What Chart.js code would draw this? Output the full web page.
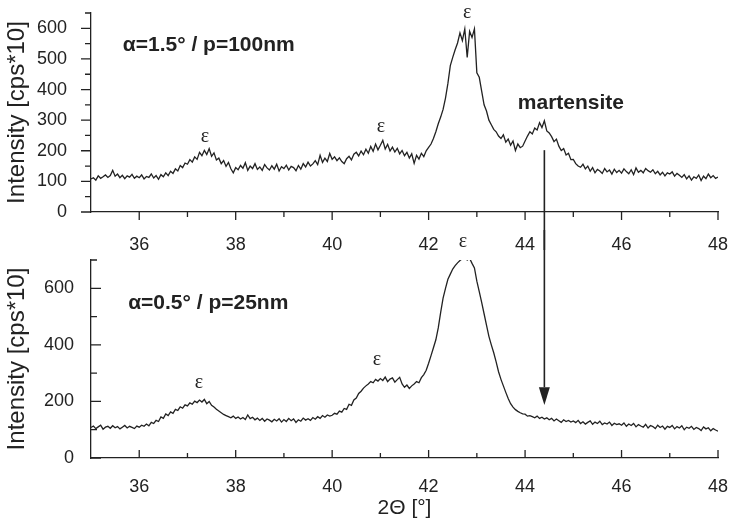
<!DOCTYPE html>
<html>
<head>
<meta charset="utf-8">
<title>XRD 2Theta scans</title>
<script src="https://cdn.jsdelivr.net/npm/chart.js@4.4.1/dist/chart.umd.min.js"></script>
<style>
  html, body { margin: 0; padding: 0; background: #fff; }
  #wrap { position: relative; width: 730px; height: 525px; overflow: hidden; }
  #topBox { position: absolute; left: 0; top: 0; width: 730px; height: 250px; }
  #bottomBox { position: absolute; left: 0; top: 230px; width: 730px; height: 295px; }
</style>
</head>
<body>
<div id="wrap">
  <div id="topBox"><canvas id="topChart"></canvas></div>
  <div id="bottomBox"><canvas id="bottomChart"></canvas></div>
</div>
<script>
// 2theta sampling: 35.00 .. 48.00 in 0.05 deg steps
const angleStart = 35;
const angleStep = 0.05;

// alpha = 1.5 deg / p = 100 nm  (cps*10)
const topCounts = [
  108,112,104,118,110,115,121,113,119,136,117,124,112,120,109,118,114,123,110,117,
  112,121,108,116,113,124,111,119,107,122,115,128,119,133,126,141,134,152,145,160,
  156,171,163,180,172,195,184,201,188,207,182,193,170,176,158,168,149,162,141,128,
  145,138,152,143,161,136,150,142,158,139,147,136,155,144,137,151,140,156,134,148,
  142,153,137,149,145,135,152,140,158,147,163,150,157,168,155,185,162,176,165,191,
  172,180,168,177,165,158,174,182,170,189,195,183,199,187,205,192,214,198,222,203,
  218,234,206,221,199,212,196,208,190,201,184,195,176,190,159,185,173,192,181,200,
  211,222,240,262,288,310,335,372,420,478,505,530,552,585,560,598,505,590,570,598,
  455,440,395,350,330,300,285,270,262,248,240,252,228,238,218,232,201,222,210,215,
  232,248,262,255,274,268,292,276,298,265,258,246,230,238,215,201,207,186,192,171,
  172,158,150,146,156,141,150,133,145,128,139,134,126,142,131,137,124,140,129,136,
  127,141,132,125,138,122,144,130,136,128,142,135,130,138,125,133,121,130,118,128,
  124,131,117,126,120,113,122,108,118,104,115,110,121,103,117,109,124,112,119,110,
  114
];

// alpha = 0.5 deg / p = 25 nm  (cps*10)
const bottomCounts = [
  108,113,104,110,116,102,109,112,105,114,107,111,103,109,115,106,112,108,104,113,
  109,116,112,120,114,126,122,133,129,145,140,156,150,163,158,172,168,181,176,188,
  184,195,190,201,196,205,198,207,192,200,186,180,172,166,160,154,150,146,142,148,
  140,145,138,143,136,152,139,144,135,141,133,140,130,138,134,128,137,131,139,127,
  136,129,140,132,138,126,135,130,141,134,139,133,143,137,146,140,150,144,152,148,
  151,158,155,166,162,175,172,190,186,205,212,228,236,247,255,262,270,266,278,272,
  281,274,286,270,279,283,268,277,285,262,250,258,246,255,262,270,266,284,295,310,
  335,362,390,418,460,515,565,600,632,650,668,680,690,698,705,712,700,706,688,672,
  625,588,550,510,470,430,400,372,340,305,278,255,232,210,192,180,171,165,160,156,
  155,148,150,146,142,148,140,144,138,142,135,140,131,138,132,126,135,129,133,127,
  131,125,133,122,128,120,126,131,119,127,122,130,118,124,120,127,115,123,118,121,
  116,124,112,120,115,122,110,118,113,109,119,106,115,111,104,116,108,113,102,112,
  108,115,103,111,106,114,100,109,105,112,101,108,104,97,110,103,107,96,104,99,
  95
];

// tick values
const xMajor = [36, 38, 40, 42, 44, 46, 48];
const xMinor = [37, 39, 41, 43, 45, 47];
const topYMajor = [0, 100, 200, 300, 400, 500, 600];
const topYMinor = [50, 150, 250, 350, 450, 550, 650];
const bottomYMajor = [0, 200, 400, 600];
const bottomYMinor = [100, 300, 500, 700];

// annotations, in data units (2theta, counts)
const topNotes = [
  { text: 'α=1.5° / p=100nm', x: 35.66, y: 545, kind: 'label' },
  { text: 'ε', x: 37.36, y: 245, kind: 'eps' },
  { text: 'ε', x: 41.01, y: 277, kind: 'eps' },
  { text: 'ε', x: 42.8, y: 652, kind: 'eps' },
  { text: 'martensite', x: 44.95, y: 355, kind: 'bold' }
];
const bottomNotes = [
  { text: 'α=0.5° / p=25nm', x: 35.77, y: 549, kind: 'label' },
  { text: 'ε', x: 37.24, y: 265, kind: 'eps' },
  { text: 'ε', x: 40.93, y: 347, kind: 'eps' },
  { text: 'ε', x: 42.71, y: 765, kind: 'eps' }
];
const arrowAngle = 44.4;

const ink = '#222';
const sans = '"Liberation Sans", Arial, Helvetica, sans-serif';
Chart.defaults.font.family = sans;
Chart.defaults.color = ink;

const toPoints = counts => counts.map((c, i) => ({ x: +(angleStart + i * angleStep).toFixed(2), y: c }));

const noteFonts = {
  label: 'bold 21px ' + sans,
  bold: 'bold 21px ' + sans,
  eps: '20px "Liberation Serif", "Times New Roman", serif'
};

// tick marks (major + minor), arrow and text labels
function makeDecor(cfg) {
  return {
    id: 'decor',
    afterDraw(chart) {
      const ctx = chart.ctx;
      const xs = chart.scales.x, ys = chart.scales.y;
      const area = chart.chartArea;
      const dir = cfg.inward ? -1 : 1;
      ctx.save();
      ctx.strokeStyle = ink;
      ctx.fillStyle = ink;
      ctx.lineWidth = 1.3;
      ctx.beginPath();
      const xTick = (v, len) => {
        const p = xs.getPixelForValue(v);
        ctx.moveTo(p, area.bottom);
        ctx.lineTo(p, area.bottom + dir * len);
      };
      const yTick = (v, len) => {
        const p = ys.getPixelForValue(v);
        ctx.moveTo(area.left, p);
        ctx.lineTo(area.left - dir * len, p);
      };
      xMajor.forEach(v => xTick(v, 8));
      xMinor.forEach(v => xTick(v, 5));
      cfg.yMajor.forEach(v => yTick(v, 10));
      cfg.yMinor.forEach(v => yTick(v, 6));
      ctx.stroke();

      // the arrow runs from the top panel down into the bottom one
      const ax = xs.getPixelForValue(arrowAngle);
      ctx.lineWidth = 1.6;
      ctx.beginPath();
      if (cfg.inward) {
        const base = ys.getPixelForValue(250);
        const tip = ys.getPixelForValue(187);
        ctx.moveTo(ax, 0);
        ctx.lineTo(ax, base);
        ctx.stroke();
        ctx.beginPath();
        ctx.moveTo(ax - 5.5, base);
        ctx.lineTo(ax + 5.5, base);
        ctx.lineTo(ax, tip);
        ctx.closePath();
        ctx.fill();
      } else {
        ctx.moveTo(ax, ys.getPixelForValue(202));
        ctx.lineTo(ax, chart.height);
        ctx.stroke();
      }

      ctx.textBaseline = 'middle';
      cfg.notes.forEach(n => {
        ctx.font = noteFonts[n.kind];
        ctx.textAlign = n.kind === 'label' ? 'left' : 'center';
        ctx.fillText(n.text, xs.getPixelForValue(n.x), ys.getPixelForValue(n.y));
      });
      ctx.restore();
    }
  };
}

function buildChart(id, cfg) {
  return new Chart(document.getElementById(id), {
    type: 'line',
    data: {
      datasets: [{
        data: toPoints(cfg.counts),
        borderColor: ink,
        borderWidth: 1.3,
        pointRadius: 0,
        tension: 0,
        fill: false
      }]
    },
    options: {
      responsive: true,
      maintainAspectRatio: false,
      animation: false,
      layout: { padding: { top: cfg.padTop, right: 12, left: 0, bottom: 0 } },
      plugins: { legend: { display: false }, tooltip: { enabled: false } },
      scales: {
        x: {
          type: 'linear',
          min: 35,
          max: 48,
          afterBuildTicks: s => { s.ticks = xMajor.map(v => ({ value: v })); },
          afterFit: s => {
            s.height = cfg.xHeight;
            s.paddingLeft = 0;
            s.paddingRight = 0;
          },
          grid: { display: false },
          border: { display: true, color: ink, width: 1.3 },
          ticks: {
            color: ink,
            font: { size: 18 },
            padding: cfg.xPad,
            autoSkip: false,
            maxRotation: 0,
            callback: v => String(v)
          },
          title: {
            display: cfg.xTitle,
            text: '2Θ [°]',
            color: ink,
            font: { size: 21 },
            padding: { top: 0, bottom: 4 }
          }
        },
        y: {
          min: 0,
          max: cfg.yMax,
          afterBuildTicks: s => { s.ticks = cfg.yMajor.map(v => ({ value: v })); },
          afterFit: s => {
            s.width = 91;
            s.paddingTop = 0;
            s.paddingBottom = 0;
          },
          grid: { display: false },
          border: { display: true, color: ink, width: 1.3 },
          ticks: { color: ink, font: { size: 18 }, padding: cfg.yPad },
          title: {
            display: true,
            text: 'Intensity [cps*10]',
            color: ink,
            font: { size: 24 },
            padding: { top: 3, bottom: 0 }
          }
        }
      }
    },
    plugins: [makeDecor(cfg)]
  });
}

buildChart('topChart', {
  counts: topCounts,
  yMax: 650,
  yMajor: topYMajor,
  yMinor: topYMinor,
  notes: topNotes,
  inward: false,
  padTop: 13,
  xHeight: 38,
  xPad: 14,
  yPad: 16,
  xTitle: false
});

buildChart('bottomChart', {
  counts: bottomCounts,
  yMax: 700,
  yMajor: bottomYMajor,
  yMinor: bottomYMinor,
  notes: bottomNotes,
  inward: true,
  padTop: 30,
  xHeight: 67,
  xPad: 10,
  yPad: 9,
  xTitle: true
});
</script>
</body>
</html>
